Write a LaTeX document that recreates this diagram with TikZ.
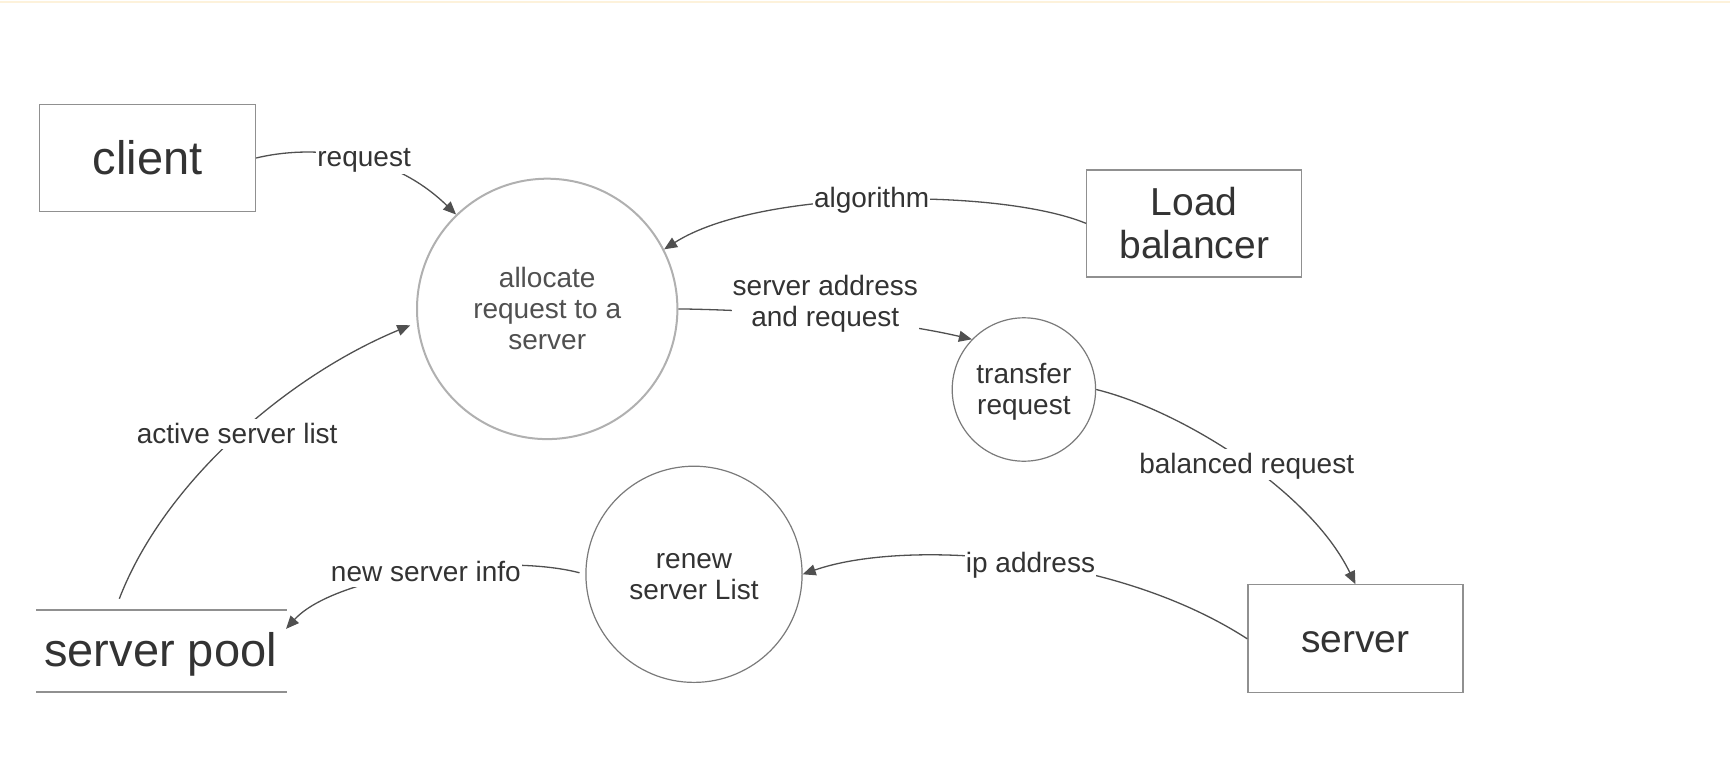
\documentclass[tikz,border=0pt]{standalone}
\usepackage{fontspec}
\setmainfont{Liberation Sans}
\usetikzlibrary{arrows.meta}
\definecolor{txt}{HTML}{333333}
\definecolor{alloctxt}{HTML}{505050}
\definecolor{boxgray}{HTML}{909090}
\definecolor{allocgray}{HTML}{B0B0B0}
\definecolor{circgray}{HTML}{7A7A7A}
\definecolor{conn}{HTML}{505050}
\definecolor{cream}{HTML}{FDF2DB}
\newcommand\mystrut{\vrule width0pt height0.85em depth0.157em\relax}
\begin{document}
\begin{tikzpicture}[x=1pt,y=-1pt,
  every node/.style={text=txt},
  entbox/.style={draw=boxgray, line width=1.3pt, fill=white, minimum width=216pt, minimum height=107pt, inner sep=0pt},
  proc/.style={circle, draw=circgray, line width=1.2pt, fill=white, inner sep=0pt, align=center, font=\fontsize{28}{31}\selectfont},
  lbl/.style={fill=white, inner sep=1pt, align=center, font=\fontsize{28}{31}\selectfont},
  flow/.style={draw=conn, line width=1.3pt, color=conn, -{Triangle[length=13pt,width=11pt]}},
]
\useasboundingbox (0,0) rectangle (1730,774);
\fill[cream] (0,0.8) rectangle (1730,3);

\node[entbox, font=\fontsize{47}{52}\selectfont] (client) at (147.5,158) {\mystrut client};
\node[entbox, align=center, minimum width=215pt, font=\fontsize{39}{43.3}\selectfont] (lb) at (1194.3,223.4) {\mystrut Load\\\mystrut balancer};
\node[entbox, minimum width=215pt, minimum height=108pt, font=\fontsize{39}{43}\selectfont] (server) at (1355.4,638.8) {\mystrut server};
\node[minimum width=250.5pt, minimum height=81.7pt, inner sep=0pt, font=\fontsize{47}{52}\selectfont] (pool) at (160.6,651) {\mystrut server pool};
\draw[draw=boxgray, line width=1.6pt] ([xshift=1pt]pool.north west) -- ([xshift=1pt]pool.north east) ([xshift=1pt]pool.south west) -- ([xshift=1pt]pool.south east);

\node[proc, draw=allocgray, line width=2pt, minimum size=260.4pt, text=alloctxt] (alloc) at (547.2,308.9) {\mystrut allocate\\\mystrut request to a\\\mystrut server};
\node[proc, minimum size=143.4pt] (transfer) at (1023.9,389.5) {\mystrut transfer\\\mystrut request};
\node[proc, minimum size=216.2pt] (renew) at (694,574.3) {\mystrut renew\\\mystrut server List};

\draw[flow] (client.east) .. controls (310,145) and (390,150) .. (alloc.134);
\draw[flow] (lb.west) .. controls (1000,188) and (760,188) .. (alloc.27);
\draw[flow] (alloc.east) .. controls (760,310) and (880,318) .. (transfer.136);
\draw[flow] (transfer.east) .. controls (1180,410) and (1310,490) .. (server.north);
\draw[flow] (server.west) .. controls (1110,550) and (900,540) .. (renew.east);
\draw[flow, shorten <=6pt] (renew.west) .. controls (500,552) and (335,575) .. (pool.10);
\draw[flow, shorten <=12pt, shorten >=7pt] (pool.138.7) .. controls (165,480) and (290,375) .. (alloc.186);

\node[lbl] (lreq) at (364.1,157.8) {\mystrut request};
\node[lbl] (lalg) at (871.6,198.6) {\mystrut algorithm};
\node[lbl] (lsa) at (825.3,302.2) {\mystrut server address\\\mystrut and request};
\node[lbl] (lbal) at (1246.7,464.4) {\mystrut balanced request};
\node[lbl] (lip) at (1030.5,563.4) {\mystrut ip address};
\node[lbl] (lnew) at (425.9,571.5) {\mystrut new server info};
\node[lbl] (lact) at (237.2,433.6) {\mystrut active server list};
\end{tikzpicture}
\end{document}
